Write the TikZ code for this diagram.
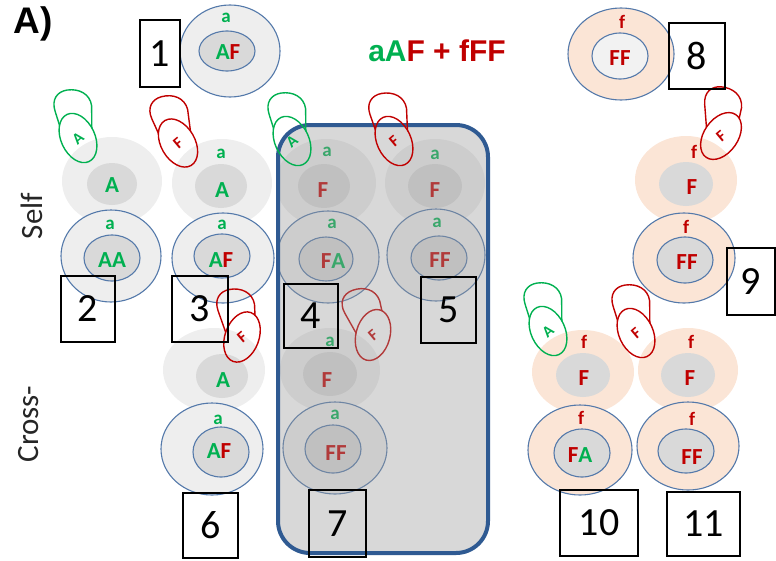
\documentclass[tikz,border=0pt]{standalone}
\usepackage{fontspec}
\setmainfont{Carlito}
\newfontfamily\lsans{Liberation Sans}
\definecolor{grn}{HTML}{00B050}
\definecolor{rd}{HTML}{C00000}
\definecolor{cblue}{HTML}{5479AA}
\definecolor{bblue}{HTML}{2F5A92}
\definecolor{og}{HTML}{EEEEEE}
\definecolor{ig}{HTML}{D9D9D9}
\definecolor{peach}{HTML}{FBE5D6}
\definecolor{ilight}{HTML}{F2F2F2}
\definecolor{ovl}{HTML}{999999}
\tikzset{
  tgt/.style={fill=og, draw=cblue, line width=1.1pt},
  tgtin/.style={fill=ig, draw=cblue, line width=1.1pt},
  ptgt/.style={fill=peach, draw=cblue, line width=1.1pt},
  don/.style={fill=og},
  pdon/.style={fill=peach},
  donin/.style={fill=ig},
  celltxt/.style={font=\fontsize{23}{23}\selectfont\bfseries, inner sep=0pt},
  smalltxt/.style={font=\fontsize{19}{19}\selectfont\bfseries, inner sep=0pt},
  numbox/.style={draw=black, line width=1.3pt, inner sep=0pt, font=\fontsize{40}{40}\selectfont},
  ligline/.style={line width=1.4pt},
  ligtxt/.style={font=\fontsize{16}{16}\selectfont\bfseries, inner sep=0pt, rotate=40},
  sidetxt/.style={font=\fontsize{31}{31}\selectfont, rotate=90, inner sep=0pt, text=black!85},
}
\newcommand\gr[1]{\textcolor{grn}{#1}}
\newcommand\rr[1]{\textcolor{rd}{#1}}
% ligand: x y ellrot caprot color letter name
\newcommand\lig[7]{%
\begin{scope}[shift={(#1,#2)}]
  \begin{scope}[rotate=#3, even odd rule]
    \clip (-80,-80) rectangle (80,80) (0,0) ellipse [x radius=17pt, y radius=26pt];
    \draw[#5, ligline, rotate={#4-#3}] (-14,0) -- (-19,-30) .. controls (-21,-42) and (-14,-49) .. (-4,-49) .. controls (8,-49) and (18,-42) .. (18,-30) -- (14,0) -- cycle;
  \end{scope}
  \draw[#5, ligline, rotate=#3] (0,0) ellipse [x radius=17pt, y radius=26pt];
  \node[ligtxt, text=#5] (#7) at (0,0) {#6};
\end{scope}}
\begin{document}
\begin{tikzpicture}[x=1pt,y=-1pt]
\useasboundingbox (0,0) rectangle (776,560);
% ---------- donors ----------
\path[don] (112,181) ellipse [x radius=50pt,y radius=44pt];
\path[donin] (112,184) ellipse [x radius=25pt,y radius=21pt];
\path[don] (222,183) ellipse [x radius=50pt,y radius=44pt];
\path[donin] (221,186) ellipse [x radius=26pt,y radius=22pt];
\path[don] (326,183) ellipse [x radius=50pt,y radius=44pt];
\path[donin] (324,186) ellipse [x radius=26pt,y radius=22pt];
\path[don] (435,183) ellipse [x radius=50pt,y radius=44pt];
\path[donin] (435,186) ellipse [x radius=27pt,y radius=22pt];
\path[don] (214,370) ellipse [x radius=51pt,y radius=42pt];
\path[donin] (222,376) ellipse [x radius=26pt,y radius=22pt];
\path[don] (330,370) ellipse [x radius=50pt,y radius=42pt];
\path[donin] (330,374) ellipse [x radius=27pt,y radius=22pt];
\path[pdon] (686,180) ellipse [x radius=51pt,y radius=44pt];
\path[donin] (686,184) ellipse [x radius=27pt,y radius=22pt];
\path[pdon] (583,372) ellipse [x radius=51pt,y radius=42pt];
\path[donin] (583,375) ellipse [x radius=27pt,y radius=22pt];
\path[pdon] (688,370) ellipse [x radius=50pt,y radius=42pt];
\path[donin] (688,375) ellipse [x radius=27pt,y radius=22pt];
% ---------- targets ----------
\path[tgt] (230,51) ellipse [x radius=50pt,y radius=46pt];
\path[tgtin] (227,51) ellipse [x radius=28pt,y radius=20pt];
\path[tgt] (111,256) ellipse [x radius=50pt,y radius=46pt];
\path[tgtin] (112,258) ellipse [x radius=28pt,y radius=23pt];
\path[tgt] (223,258) ellipse [x radius=51pt,y radius=45pt];
\path[tgtin] (222,256) ellipse [x radius=28pt,y radius=22pt];
\path[tgt] (328,257) ellipse [x radius=51pt,y radius=46pt];
\path[tgtin] (326,259) ellipse [x radius=27pt,y radius=22pt];
\path[tgt] (436,255) ellipse [x radius=49pt,y radius=46pt];
\path[tgtin] (439,258) ellipse [x radius=28pt,y radius=22pt];
\path[tgt] (212,449) ellipse [x radius=51pt,y radius=46pt];
\path[tgtin] (221,452) ellipse [x radius=28pt,y radius=25pt];
\path[tgt] (335,448) ellipse [x radius=52pt,y radius=46pt];
\path[tgtin] (333,449) ellipse [x radius=28pt,y radius=24pt];
\path[ptgt] (621,54) ellipse [x radius=53pt,y radius=46pt];
\path[tgtin, fill=ilight] (620,56) ellipse [x radius=28pt,y radius=23pt];
\path[ptgt] (684,258) ellipse [x radius=51pt,y radius=45pt];
\path[tgtin] (685,260) ellipse [x radius=28pt,y radius=23pt];
\path[ptgt] (580,450) ellipse [x radius=52pt,y radius=45pt];
\path[tgtin] (582,453) ellipse [x radius=28pt,y radius=24pt];
\path[ptgt] (688,446) ellipse [x radius=51pt,y radius=44pt];
\path[tgtin] (686,451) ellipse [x radius=28pt,y radius=22pt];
% ---------- cell texts ----------
\node[smalltxt, text=grn] (c1a) at (226,18) {a};
\node[celltxt] (c1) at (228,52) {\gr{A}\rr{F}};
\node[celltxt, text=grn] (d2) at (112,185) {A};
\node[smalltxt, text=grn] (t2a) at (110,225) {a};
\node[celltxt, text=grn] (t2) at (112,260) {AA};
\node[smalltxt, text=grn] (d3a) at (221,154) {a};
\node[celltxt, text=grn] (d3) at (222,190) {A};
\node[smalltxt, text=grn] (t3a) at (222,225) {a};
\node[celltxt] (t3) at (221,260) {\gr{A}\rr{F}};
\node[smalltxt, text=grn] (d4a) at (327,152) {a};
\node[celltxt, text=rd] (d4) at (323,190) {F};
\node[smalltxt, text=grn] (t4a) at (332,224) {a};
\node[celltxt] (t4) at (333,261) {\rr{F}\gr{A}};
\node[smalltxt, text=grn] (d5a) at (435,155) {a};
\node[celltxt, text=rd] (d5) at (435,190) {F};
\node[smalltxt, text=grn] (t5a) at (437,223) {a};
\node[celltxt, text=rd] (t5) at (440,260) {FF};
\node[celltxt, text=grn] (d6) at (223,380) {A};
\node[smalltxt, text=grn] (t6a) at (218,420) {a};
\node[celltxt] (t6) at (219,451) {\gr{A}\rr{F}};
\node[smalltxt, text=grn] (d7a) at (330,342) {a};
\node[celltxt, text=rd] (d7) at (327,380) {F};
\node[smalltxt, text=grn] (t7a) at (335,415) {a};
\node[celltxt, text=rd] (t7) at (336,453) {FF};
\node[smalltxt, text=rd] (c8f) at (622,22) {f};
\node[celltxt, text=rd] (c8) at (620,58) {FF};
\node[smalltxt, text=rd] (d9f) at (694,152) {f};
\node[celltxt, text=rd] (d9) at (692,187) {F};
\node[smalltxt, text=rd] (t9f) at (686,227) {f};
\node[celltxt, text=rd] (t9) at (687,262) {FF};
\node[smalltxt, text=rd] (d10f) at (584,342) {f};
\node[celltxt, text=rd] (d10) at (584,378) {F};
\node[smalltxt, text=rd] (t10f) at (581,418) {f};
\node[celltxt] (t10) at (580,455) {\rr{F}\gr{A}};
\node[smalltxt, text=rd] (d11f) at (691,342) {f};
\node[celltxt, text=rd] (d11) at (690,378) {F};
\node[smalltxt, text=rd] (t11f) at (692,419) {f};
\node[celltxt, text=rd] (t11) at (692,457) {FF};
% ---------- ligand under overlay ----------
\lig{373}{335}{-15}{20}{rd}{F}{l6}
% ---------- overlay box ----------
\draw[bblue, line width=4pt, fill=ovl, fill opacity=0.38, rounded corners=32pt] (278,125) rectangle (488,553);
% ---------- ligands ----------
\lig{78}{138}{25}{8}{grn}{A}{l1}
\lig{178}{143}{30}{15}{rd}{F}{l2}
\lig{292}{141}{25}{8}{grn}{A}{l3}
\lig{394}{141}{25}{10}{rd}{F}{l4}
\lig{242}{337}{-20}{10}{rd}{F}{l5}
\lig{721}{136}{-35}{-5}{rd}{F}{l7}
\lig{548}{331}{25}{8}{grn}{A}{l8}
\lig{636}{333}{25}{8}{rd}{F}{l9}
% ---------- number boxes ----------
\node[numbox, minimum width=40pt, minimum height=67pt] (b1) at (160,53.5) {1};
\node[numbox, minimum width=54pt, minimum height=66pt] (b2) at (88,309) {2};
\node[numbox, minimum width=56pt, minimum height=66pt] (b3) at (200,309) {3};
\node[numbox, minimum width=54pt, minimum height=64pt] (b4) at (311,316) {4};
\node[numbox, minimum width=55pt, minimum height=66pt] (b5) at (448.5,310) {5};
\node[numbox, minimum width=55pt, minimum height=65pt] (b6) at (210.5,525.5) {6};
\node[numbox, minimum width=57pt, minimum height=67pt] (b7) at (337.5,523.5) {7};
\node[numbox, minimum width=56pt, minimum height=66pt] (b8) at (697,56) {8};
\node[numbox, minimum width=48pt, minimum height=67pt] (b9) at (751,281.5) {9};
\node[numbox, minimum width=78pt, minimum height=66pt] (b10) at (599,523) {10};
\node[numbox, minimum width=73pt, minimum height=64pt] (b11) at (703.5,524) {11};
% ---------- labels ----------
\node[font=\lsans\bfseries\fontsize{37}{37}\selectfont, inner sep=0pt] (lab) at (33,24) {A)};
\node[font=\lsans\bfseries\fontsize{30}{30}\selectfont, inner sep=0pt] (title) at (437,51) {\gr{aA}\rr{F + fFF}};
\node[sidetxt] (self) at (32,216) {Self};
\node[sidetxt] (cross) at (29,424) {Cross-};
\end{tikzpicture}
\end{document}
